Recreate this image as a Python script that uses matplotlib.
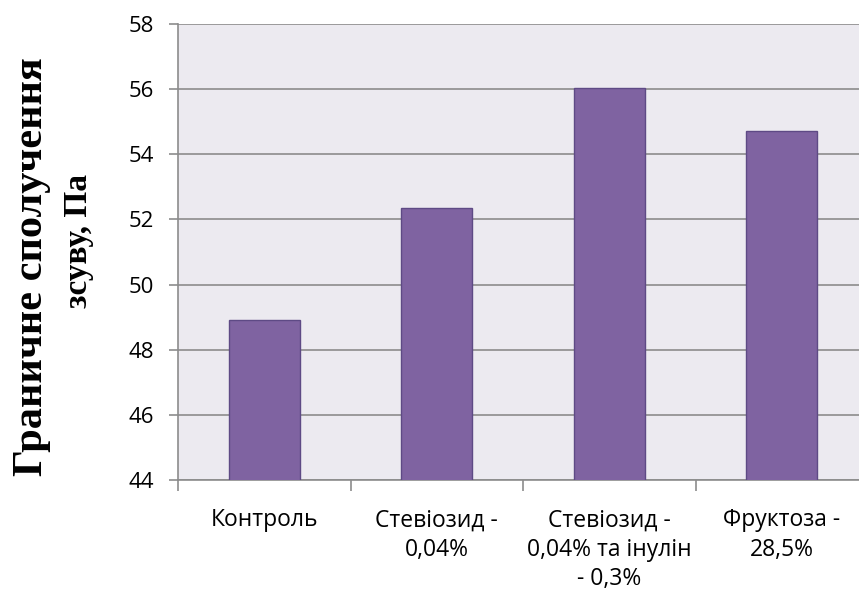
import matplotlib.pyplot as plt
import numpy as np

# Значення з графіка
categories = ['Контроль', 'Стевіозид -\n0,04%', 'Стевіозид -\n0,04% та інулін\n- 0,3%', 'Фруктоза -\n28,5%']
values = [48.9, 52.35, 56.05, 54.7]
y_ticks = [44, 46, 48, 50, 52, 54, 56, 58]

plt.rcParams['font.family'] = ['Open Sans', 'DejaVu Sans']

fig = plt.figure(figsize=(8.59, 5.91), dpi=100)
# plot area runs a bit past the right edge, like the source picture
ax = fig.add_axes([178 / 859, 1 - 480 / 591, 690 / 859, 456 / 591])
ax.set_facecolor('#ECEAF0')

x = np.arange(len(categories))
ax.bar(x, values, width=0.41, bottom=0, color='#7F63A1', edgecolor='#5E4A85', linewidth=1, zorder=3)

ax.set_ylim(44, 58)
ax.set_xlim(-0.5, len(categories) - 0.5)
ax.set_yticks(y_ticks)
ax.set_yticklabels([str(t) for t in y_ticks], fontsize=16)
ax.yaxis.grid(True, color='#8C8C8C', linewidth=1.2, zorder=0)
ax.tick_params(axis='y', length=6.5, width=1.2, color='#8C8C8C', pad=11)

# category ticks between bars
ax.set_xticks(np.arange(len(categories) + 1) - 0.5)
ax.set_xticklabels([])
ax.tick_params(axis='x', length=8, width=1.2, color='#8C8C8C')
for i, lab in enumerate(categories):
    ax.annotate(lab, xy=(i, 0), xycoords=('data', 'axes fraction'), xytext=(0, -20.5),
                textcoords='offset points', ha='center', va='top', fontsize=16.5, linespacing=1.3)

for side in ['top', 'right']:
    ax.spines[side].set_visible(False)
ax.spines['left'].set_color('#8C8C8C')
ax.spines['left'].set_linewidth(1.2)
ax.spines['bottom'].set_color('#8C8C8C')
ax.spines['bottom'].set_linewidth(1.2)

serif = ['Liberation Serif', 'DejaVu Serif']
fig.text(32 / 859, 1 - 267 / 591, 'Граничне сполучення', rotation=90, ha='center', va='center',
         fontsize=30.5, fontweight='bold', family=serif)
fig.text(79 / 859, 1 - 241 / 591, 'зсуву, Па', rotation=90, ha='center', va='center',
         fontsize=24, fontweight='bold', family=serif)

plt.savefig('out.png', dpi=100)
